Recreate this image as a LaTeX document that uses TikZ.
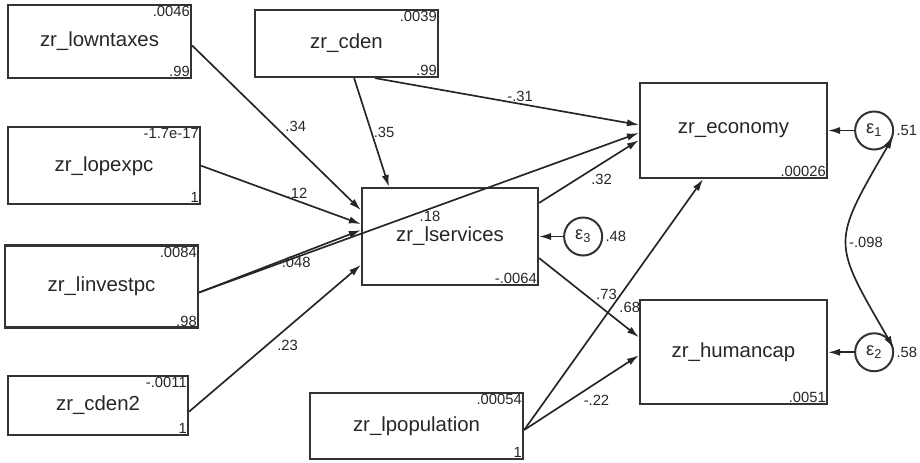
\documentclass[tikz,border=0pt]{standalone}
\usepackage{fontspec}
\setmainfont{Liberation Sans}
\usetikzlibrary{shapes,arrows.meta,positioning}
\tikzset{basic/.style={draw=black!80,line width=0.55mm,text=black!85,inner sep=0pt,align=center}}
\tikzset{obs/.style={basic,rectangle,font=\fontsize{14.5}{16}\selectfont}}
\tikzset{err/.style={basic,circle,line width=0.5mm,minimum size=0.95cm,font=\fontsize{13}{14}\selectfont}}
\tikzset{num/.style={font=\fontsize{10.5}{12}\selectfont,text=black!85,inner sep=1.5pt}}
\tikzset{mean/.style={label={[num,anchor=north east]north east:#1}}}
\tikzset{vari/.style={label={[num,anchor=south east]south east:#1}}}
\tikzset{resid/.style={label={[num,anchor=west]east:#1}}}
\tikzset{arrow/.style={draw=black!85,line width=0.42mm,->}}
\tikzset{coef/.style={num,inner sep=1pt}}

\begin{document}
\begin{tikzpicture}[x=0.025cm,y=-0.025cm,>={Latex[length=3mm,width=1.8mm]}]
    \useasboundingbox (0,0) rectangle (920,462);

    % exogenous variables, left column
    \node[obs,minimum width=4.575cm,minimum height=1.825cm,mean=.0046,vari=.99] (lowntaxes) at (99.5,41.5) {zr\_lowntaxes};
    \node[obs,minimum width=4.8cm,minimum height=1.925cm,mean=-1.7e-17,vari=1,below=1.175cm of lowntaxes.south west,anchor=north west] (lopexpc) {zr\_lopexpc};
    \node[obs,minimum width=4.825cm,minimum height=2.05cm,mean=.0084,vari=.98,below=0.975cm of lopexpc.south west,anchor=north west,xshift=-0.075cm] (linvestpc) {zr\_linvestpc};
    \node[obs,minimum width=4.5cm,minimum height=1.475cm,mean=-.0011,vari=1,below=1.15cm of linvestpc.south west,anchor=north west,xshift=0.075cm] (cden2) {zr\_cden2};

    \node[obs,minimum width=4.575cm,minimum height=1.675cm,mean=.0039,vari=.99] (cden) at (346.5,43.5) {zr\_cden};
    \node[obs,minimum width=5.325cm,minimum height=1.65cm,mean=.00054,vari=1] (lpopulation) at (416.5,426) {zr\_lpopulation};

    % endogenous variables
    \node[obs,minimum width=4.4cm,minimum height=2.425cm,vari=-.0064] (lservices) at (450,236.5) {zr\_lservices};
    \node[obs,minimum width=4.675cm,minimum height=2.375cm,vari=.00026] (economy) at (733.5,130.5) {zr\_economy};
    \node[obs,minimum width=4.675cm,minimum height=2.6cm,vari=.0051,below=3cm of economy] (humancap) {zr\_humancap};

    % errors
    \node[err,resid=.51,right=0.65cm of economy] (e1) {ε\textsubscript{1}};
    \node[err,resid=.58,right=0.65cm of humancap] (e2) {ε\textsubscript{2}};
    \node[err,resid=.48,right=0.6cm of lservices] (e3) {ε\textsubscript{3}};

        \path[arrow] ([yshift=-0.1cm]lowntaxes.east) -- node[coef,pos=0.54,above right] {.34} ([yshift=0.66cm]lservices.west);
        \path[arrow] (lopexpc.east) -- node[coef,pos=0.6,above] {.12} ([yshift=0.31cm]lservices.west);
        \path[arrow] ([yshift=-0.15cm]linvestpc.east) -- node[coef,pos=0.6,below] {.048} ([yshift=0.16cm]lservices.west);
        \path[arrow] ([yshift=-0.15cm]linvestpc.east) -- node[coef,pos=0.525,below] {.18} ([yshift=-0.06cm]economy.west);
        \path[arrow] ([yshift=-0.16cm]cden2.east) -- node[coef,pos=0.5,below right] {.23} ([yshift=-0.71cm]lservices.west);
        \path[arrow] ([xshift=0.19cm]cden.south) -- node[coef,pos=0.5,right] {.35} ([xshift=-1.525cm]lservices.north);
        \path[arrow] ([xshift=0.71cm]cden.south) -- node[coef,pos=0.55,above] {-.31} ([yshift=0.14cm]economy.west);
        \path[arrow] ([yshift=0.84cm]lservices.east) -- node[coef,pos=0.5,below right] {.32} ([yshift=-0.24cm]economy.west);
        \path[arrow] ([yshift=-0.54cm]lservices.east) -- node[coef,pos=0.55,above right] {.73} ([yshift=0.375cm]humancap.west);
        \path[arrow] ([yshift=-0.1cm]lpopulation.east) -- node[coef,pos=0.52,below right] {.68} ([xshift=-0.76cm]economy.south);
        \path[arrow] ([yshift=-0.1cm]lpopulation.east) -- node[coef,pos=0.5,below right] {-.22} ([yshift=-0.075cm]humancap.west);
        \path[arrow] (e3) -- (lservices);
        \path[arrow] (e1) -- (economy);
        \path[arrow] (e2) -- (humancap);
        \path[arrow,<->] (e1.-18) to[out=-120,in=120,looseness=1.5] node[coef,right] {-.098} (e2.12);
\end{tikzpicture}
\end{document}
